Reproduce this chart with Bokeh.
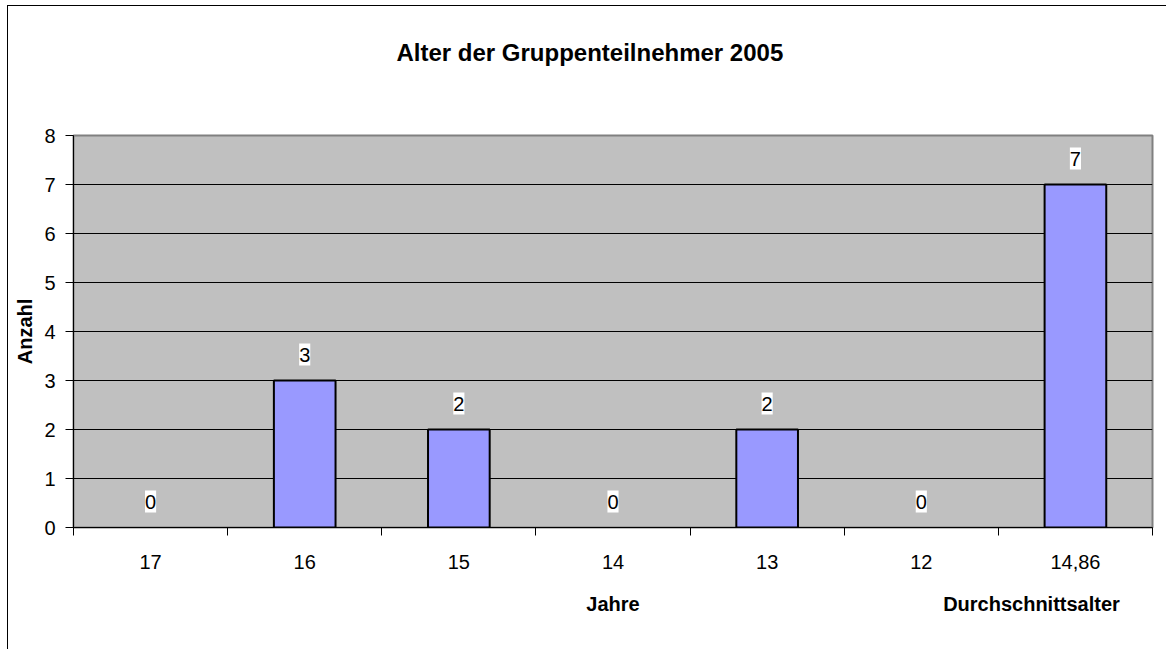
from bokeh.plotting import figure
from bokeh.models import Range1d, FixedTicker, ColumnDataSource, LinearAxis
from bokeh.core.properties import value
from bokeh.embed import file_html
from bokeh.resources import INLINE

# ---- data ----
categories = ["17", "16", "15", "14", "13", "12", "14,86"]
counts = [0, 3, 2, 0, 2, 0, 7]
y_ticks = [0, 1, 2, 3, 4, 5, 6, 7, 8]

title_text = "Alter der Gruppenteilnehmer 2005"
x_label = "Jahre"
y_label = "Anzahl"
avg_label = "Durchschnittsalter"

FONT = "Liberation Sans"

n = len(categories)
centers = [i + 0.5 for i in range(n)]
bounds = list(range(n + 1))

p = figure(width=1159, height=644, output_backend="svg", toolbar_location=None,
           x_range=Range1d(0, n), y_range=Range1d(0, max(y_ticks)),
           min_border_left=65, min_border_right=15, min_border_top=129, min_border_bottom=123)
p.styles = {"border-left": "1px solid black", "border-top": "1px solid black",
            "margin-left": "7px", "margin-top": "5px"}
p.background_fill_color = "#C0C0C0"
p.border_fill_color = "white"
p.outline_line_color = "#808080"
p.outline_line_width = 2

src = ColumnDataSource(dict(x=centers, top=counts, lbl=[str(c) for c in counts],
                            la=[1 if c else 0 for c in counts]))
p.vbar(x="x", top="top", width=0.4, bottom=0, source=src,
       fill_color="#9999FF", line_color="black", line_width=2, line_alpha="la")

p.text(x="x", y="top", text="lbl", source=src, text_align="center",
       text_baseline="bottom", y_offset=-15, text_font=value(FONT),
       text_font_size="20px", text_color="black",
       background_fill_color="white", padding=(0, 4))

# grid
p.xgrid.visible = False
p.ygrid.ticker = FixedTicker(ticks=y_ticks)
p.ygrid.grid_line_color = "black"
p.ygrid.grid_line_width = 1

# y axis
p.yaxis.ticker = FixedTicker(ticks=y_ticks)
p.yaxis.axis_line_color = "black"
p.yaxis.major_tick_out = 8
p.yaxis.major_tick_in = 0
p.yaxis.minor_tick_line_color = None
p.yaxis.major_label_standoff = 10
p.yaxis.major_label_text_font = FONT
p.yaxis.major_label_text_font_size = "20px"
p.yaxis.major_label_text_color = "black"
p.yaxis.axis_label = y_label
p.yaxis.axis_label_text_font = FONT
p.yaxis.axis_label_text_font_style = "bold"
p.yaxis.axis_label_text_font_size = "20px"
p.yaxis.axis_label_text_color = "black"
p.yaxis.axis_label_standoff = 5

# x axis (category labels, ticks on category boundaries)
p.xaxis.ticker = FixedTicker(ticks=centers, minor_ticks=bounds)
p.xaxis.major_label_overrides = {c: lab for c, lab in zip(centers, categories)}
p.xaxis.axis_line_color = "black"
p.xaxis.major_tick_out = 0
p.xaxis.major_tick_in = 0
p.xaxis.major_tick_line_color = None
p.xaxis.minor_tick_out = 8
p.xaxis.minor_tick_in = 0
p.xaxis.minor_tick_line_color = "black"
p.xaxis.major_label_standoff = 19
p.xaxis.major_label_text_font = FONT
p.xaxis.major_label_text_font_size = "20px"
p.xaxis.major_label_text_color = "black"

# second row below: axis titles "Jahre" (centred) and "Durchschnittsalter" (right)
title_pos = [n / 2, n - 0.785]
ax2 = LinearAxis(ticker=FixedTicker(ticks=title_pos),
                 major_label_overrides={title_pos[0]: x_label, title_pos[1]: avg_label},
                 axis_line_color=None, major_tick_line_color=None, minor_tick_line_color=None,
                 major_label_standoff=15, major_label_text_font=FONT,
                 major_label_text_font_style="bold", major_label_text_font_size="20px",
                 major_label_text_color="black")
p.add_layout(ax2, "below")

# chart title, placed above the plot area
head_pos = n / 2 - 0.15
ax_top = LinearAxis(ticker=FixedTicker(ticks=[head_pos]),
                    major_label_overrides={head_pos: title_text},
                    axis_line_color=None, major_tick_line_color=None, minor_tick_line_color=None,
                    major_label_standoff=64, major_label_text_font=FONT,
                    major_label_text_font_style="bold", major_label_text_font_size="24px",
                    major_label_text_color="black")
p.add_layout(ax_top, "above")

open("out.html", "w").write(file_html(p, INLINE))
